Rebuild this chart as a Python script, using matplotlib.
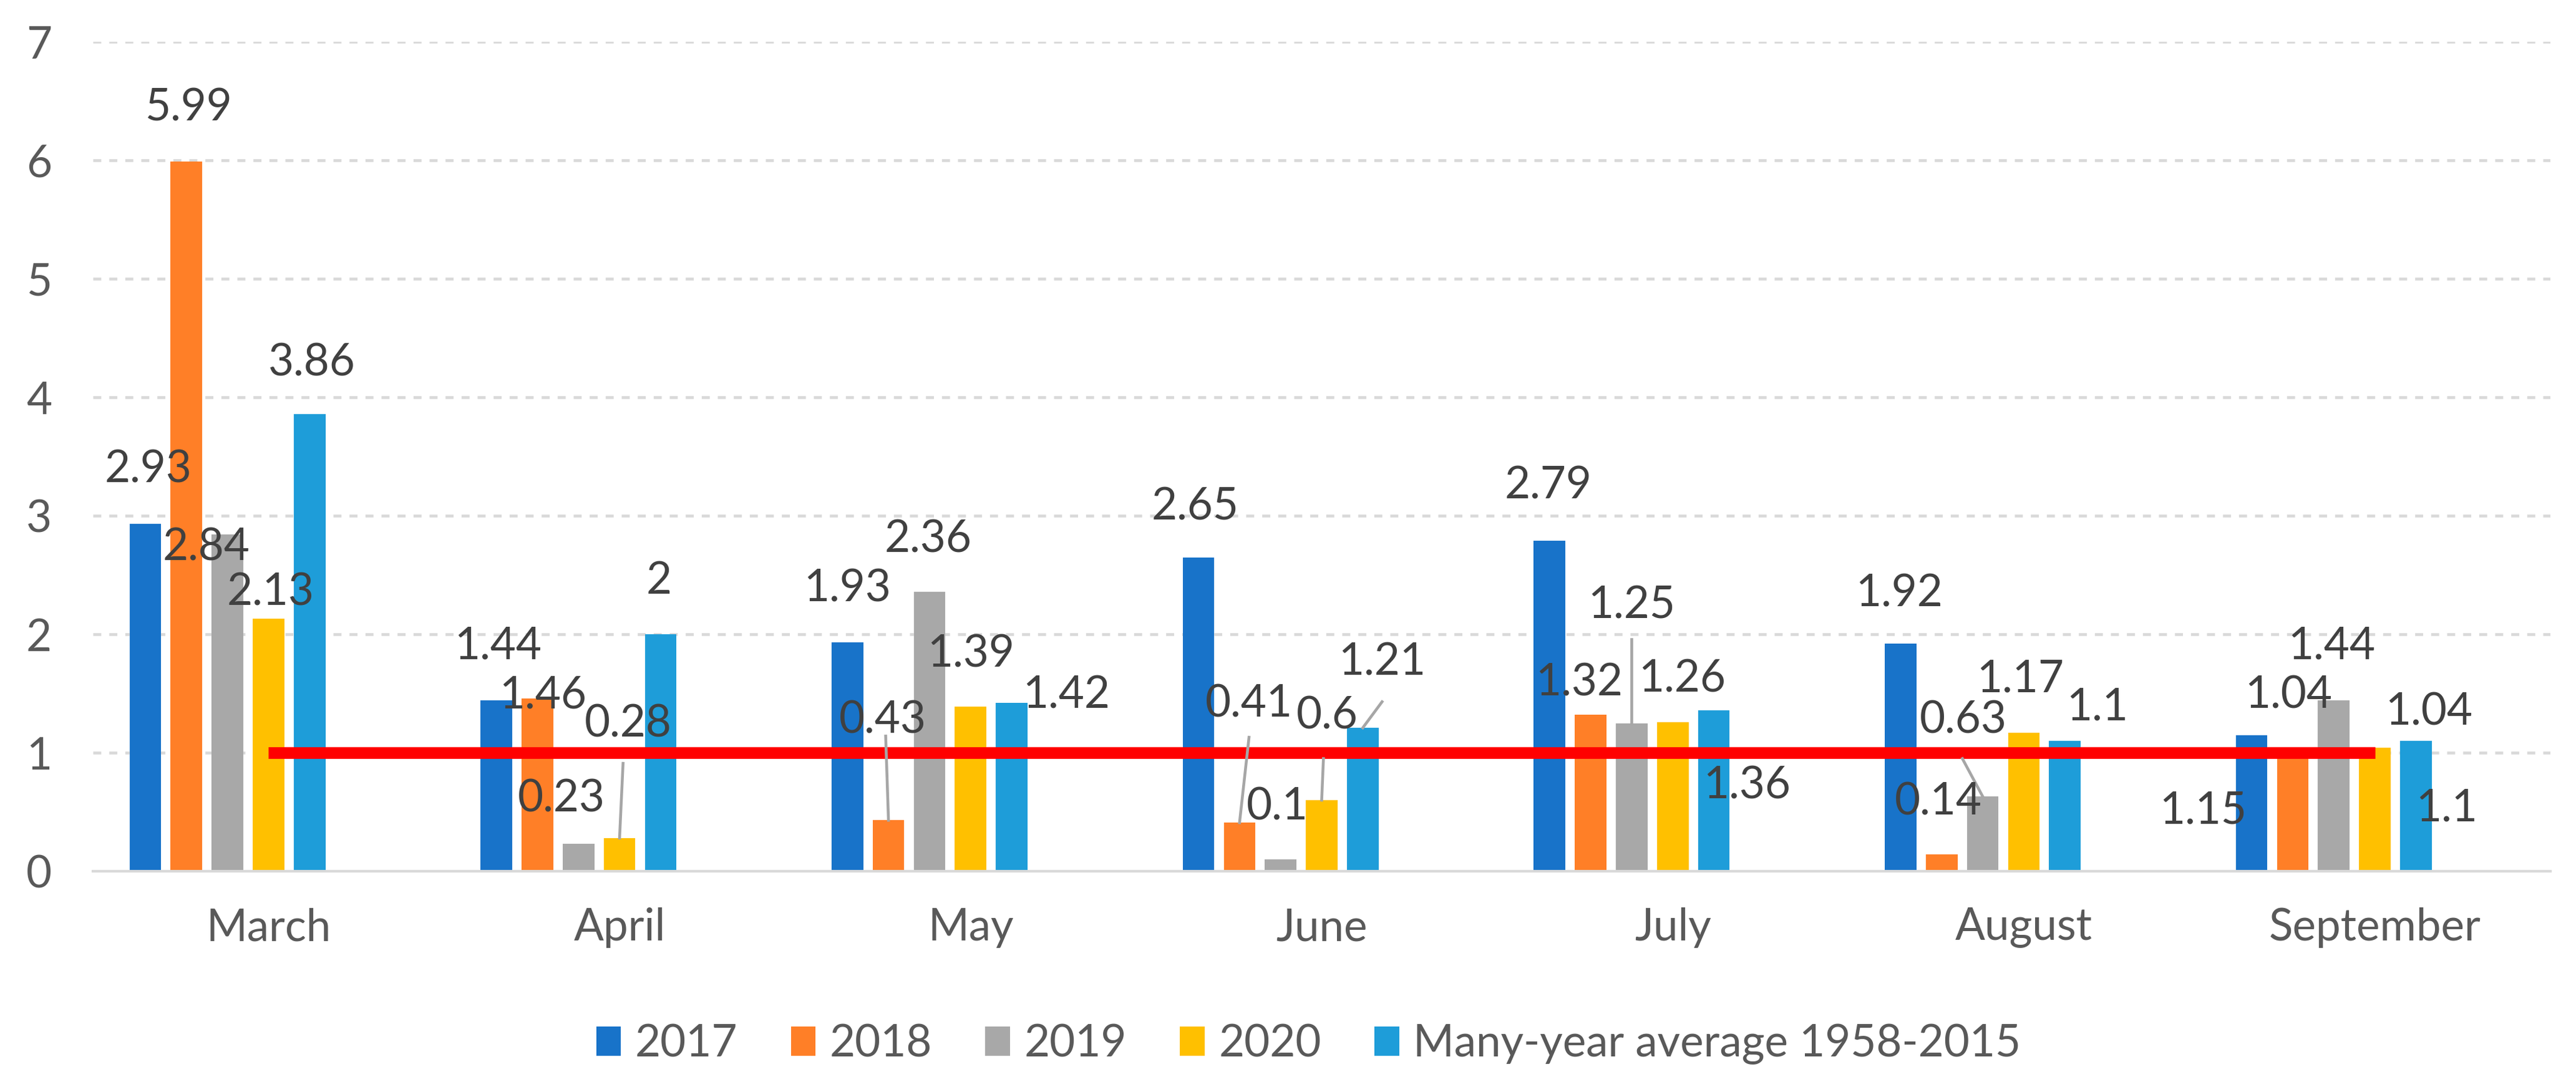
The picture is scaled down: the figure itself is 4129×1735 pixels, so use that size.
import numpy as np
import matplotlib.pyplot as plt

# ---- data ----
months = ['March', 'April', 'May', 'June', 'July', 'August', 'September']
series_names = ['2017', '2018', '2019', '2020', 'Many-year average 1958-2015']
v2017 = [2.93, 1.44, 1.93, 2.65, 2.79, 1.92, 1.15]
v2018 = [5.99, 1.46, 0.43, 0.41, 1.32, 0.14, 1.04]
v2019 = [2.84, 0.23, 2.36, 0.10, 1.25, 0.63, 1.44]
v2020 = [2.13, 0.28, 1.39, 0.60, 1.26, 1.17, 1.04]
v_avg = [3.86, 2.00, 1.42, 1.21, 1.36, 1.10, 1.10]
norm_level = 1  # red reference line

colors = ['#1873C9', '#FF7F27', '#A8A8A8', '#FFC000', '#1E9DD9']

# data-label placement (offset from month centre, y centre), hand moved like in the original
lab_pos = [
    [(-0.342, 3.42), (-0.347, 1.93), (-0.351, 2.41), (-0.360, 3.10), (-0.354, 3.28), (-0.355, 2.37), (-0.489, 0.54)],
    [(-0.228, 6.47), (-0.219, 1.51), (-0.250, 1.30), (-0.208, 1.44), (-0.267, 1.62), (-0.244, 0.61), (-0.246, 1.51)],
    [(-0.178, 2.76), (-0.165, 0.64), (-0.121, 2.83), (-0.127, 0.57), (-0.118, 2.27), (-0.172, 1.30), (-0.124, 1.93)],
    [(0.006, 2.38), (0.024, 1.27), (0.000, 1.86), (0.015, 1.34), (0.026, 1.65), (-0.010, 1.65), (0.154, 1.37)],
    [(0.124, 4.32), (0.113, 2.48), (0.272, 1.51), (0.172, 1.79), (0.212, 0.75), (0.209, 1.41), (0.205, 0.56)],
]
# leader lines: (month, series, end dx, end y)
leaders = [(1, 3, 0.01, 0.91), (2, 1, -0.242, 1.14), (3, 1, -0.207, 1.13),
           (3, 3, 0.005, 0.95), (3, 4, 0.172, 1.43), (4, 2, -0.117, 1.96),
           (5, 2, -0.175, 0.95)]

plt.rcParams['font.family'] = ['Lato', 'DejaVu Sans']
FS = 17
TXT = '#595959'

W, H = 4129, 1735
fig = plt.figure(figsize=(W / 300, H / 300), dpi=300)
ax = fig.add_axes([149 / W, 1 - 1397 / H, (4088 - 149) / W, (1397 - 67) / H])

values = [v2017, v2018, v2019, v2020, v_avg]
x = np.arange(len(months))
pitch = 0.117
bw = 0.09
offsets = [(i - 3) * pitch for i in range(len(values))]

for i, vals in enumerate(values):
    ax.bar(x + offsets[i], vals, width=bw, color=colors[i], label=series_names[i], zorder=2)

# red reference line from March to September
ax.plot([x[0], x[-1]], [norm_level, norm_level], color='#FF0000', lw=4.5,
        solid_capstyle='butt', zorder=3)

# leader lines
for m, s, dx, ey in leaders:
    ax.plot([m + offsets[s], m + dx], [values[s][m], ey], color='#A6A6A6', lw=1.1, zorder=3)

# data labels
for s, vals in enumerate(values):
    for m, v in enumerate(vals):
        dx, ly = lab_pos[s][m]
        ax.annotate(f'{v:g}', xy=(m + dx, ly), xytext=(0, -6.2), textcoords='offset points',
                    ha='center', va='baseline', fontsize=FS, color='#404040', zorder=5)

ax.set_xlim(-0.5, len(months) - 0.5)
ax.set_ylim(0, 7)
ax.set_yticks(range(8))
ax.set_xticks(x)
ax.set_xticklabels(months)
ax.tick_params(axis='both', length=0, labelsize=FS, labelcolor=TXT)
ax.tick_params(axis='y', pad=15.8)
ax.tick_params(axis='x', pad=14)

ax.yaxis.grid(True, color='#D9D9D9', lw=1.1, linestyle=(0, (2.8, 2.8)), zorder=0)
ax.set_axisbelow(True)
for side in ['left', 'right', 'top']:
    ax.spines[side].set_visible(False)
ax.spines['bottom'].set_color('#D9D9D9')
ax.spines['bottom'].set_linewidth(1.0)
ax.spines['bottom'].set_zorder(4)

leg = fig.legend(loc='center', bbox_to_anchor=(0.508, 0.035), ncol=5, frameon=False,
                 fontsize=FS, handlelength=0.56, handleheight=0.65, handletextpad=0.32,
                 columnspacing=1.2, labelcolor=TXT)

fig.savefig('out.png', dpi=300)
